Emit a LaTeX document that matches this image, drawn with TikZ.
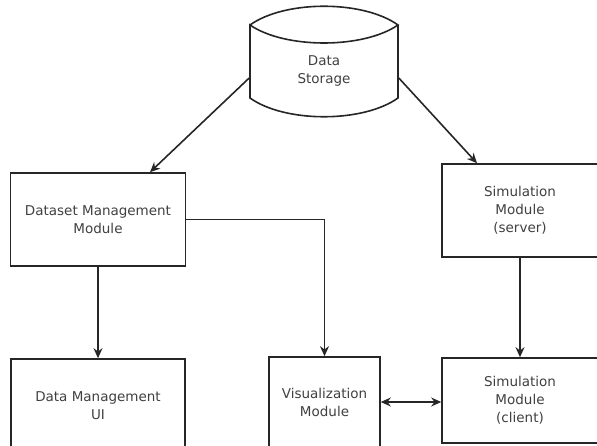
\documentclass[tikz,border=0pt]{standalone}
\usepackage{fontspec}
\setmainfont{DejaVu Sans}
\usetikzlibrary{arrows.meta}

\begin{document}
\begin{tikzpicture}[x=1pt,y=-1pt,line width=1.6pt,
    box/.style={draw=black!85,rectangle,align=center,inner sep=0pt,
      text=black!75,font=\fontsize{13.5}{18}\selectfont},
    conn/.style={draw=black!85,-{Stealth[length=10pt,width=9pt]}},
    both/.style={draw=black!85,{Stealth[length=10pt,width=9pt]}-{Stealth[length=10pt,width=9pt]}}]
  \useasboundingbox (0,0) rectangle (597,446);

  % storage drum
  \def\xl{250} \def\xr{398}
  \draw[black!85] (\xl,25) .. controls (285,0) and (363,0) .. (\xr,25)
        .. controls (363,49) and (285,49) .. (\xl,25)
        -- (\xl,98) .. controls (285,123) and (363,123) .. (\xr,98) -- (\xr,25);
  \node[box,draw=none,minimum width=148,minimum height=92] (storage) at (324,71) {Data\\Storage};

  \node[box,minimum width=175,minimum height=93] (dataset) at (98,219.5) {Dataset Management\\Module};
  \node[box,minimum width=156,minimum height=93] (server) at (520,210.5) {Simulation\\Module\\(server)};
  \node[box,minimum width=174,minimum height=94] (ui) at (98,406) {Data Management\\UI};
  \node[box,minimum width=111,minimum height=90] (vis) at (324.5,402) {Visualization\\Module};
  \node[box,minimum width=156,minimum height=85] (client) at (520,400.5) {Simulation\\Module\\(client)};

  \draw[conn] ([yshift=-7pt]storage.west) -- ([xshift=52pt]dataset.north);
  \draw[conn] ([yshift=-7pt]storage.east) -- ([xshift=-43pt]server.north);
  \draw[conn] (dataset.south) -- (ui.north);
  \draw[conn] (dataset.east) -| (vis.north);
  \draw[conn] (server.south) -- (client.north);
  \draw[both] (vis.east) -- (vis.east -| client.west);
\end{tikzpicture}
\end{document}
